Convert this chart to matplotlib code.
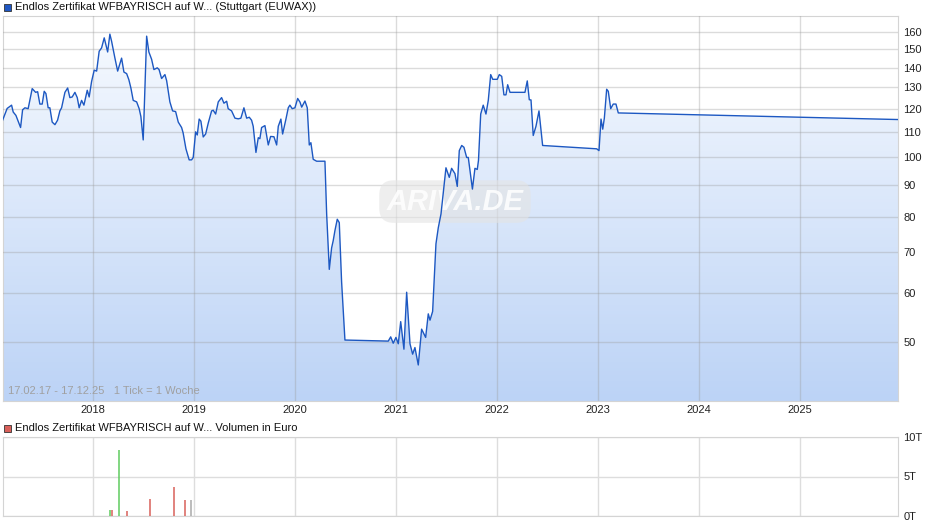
import numpy as np
import matplotlib
matplotlib.use("Agg")
import matplotlib.pyplot as plt
from matplotlib.patches import Rectangle
from matplotlib.colors import LinearSegmentedColormap

plt.rcParams['font.family'] = ['Liberation Sans', 'DejaVu Sans']

# ------------------------------------------------------------
# data (time in decimal years, price in EUR)
# ------------------------------------------------------------
t_price = [
    2017.106, 2017.151, 2017.195, 2017.211, 2017.238, 2017.284, 2017.304, 2017.327,
    2017.359, 2017.399, 2017.433, 2017.453, 2017.475, 2017.498, 2017.518, 2017.535,
    2017.557, 2017.574, 2017.597, 2017.624, 2017.650, 2017.673, 2017.690, 2017.723,
    2017.750, 2017.772, 2017.795, 2017.822, 2017.845, 2017.864, 2017.888, 2017.911,
    2017.944, 2017.963, 2017.987, 2018.013, 2018.037, 2018.062, 2018.086, 2018.112,
    2018.146, 2018.168, 2018.185, 2018.218, 2018.245, 2018.284, 2018.307, 2018.334,
    2018.356, 2018.376, 2018.399, 2018.433, 2018.458, 2018.475, 2018.498, 2018.532,
    2018.554, 2018.581, 2018.604, 2018.637, 2018.655, 2018.680, 2018.713, 2018.730,
    2018.762, 2018.789, 2018.819, 2018.845, 2018.878, 2018.893, 2018.921, 2018.953,
    2018.977, 2018.993, 2019.017, 2019.033, 2019.052, 2019.069, 2019.092, 2019.116,
    2019.142, 2019.175, 2019.191, 2019.215, 2019.241, 2019.274, 2019.297, 2019.324,
    2019.339, 2019.373, 2019.406, 2019.439, 2019.465, 2019.495, 2019.522, 2019.548,
    2019.571, 2019.587, 2019.614, 2019.637, 2019.653, 2019.670, 2019.703, 2019.736,
    2019.759, 2019.792, 2019.819, 2019.835, 2019.861, 2019.878, 2019.911, 2019.934,
    2019.950, 2019.973, 2020.000, 2020.027, 2020.050, 2020.067, 2020.099, 2020.122,
    2020.142, 2020.158, 2020.181, 2020.215, 2020.297, 2020.314, 2020.340, 2020.363,
    2020.379, 2020.396, 2020.419, 2020.439, 2020.462, 2020.495, 2020.924, 2020.948,
    2020.973, 2021.000, 2021.023, 2021.047, 2021.079, 2021.106, 2021.139, 2021.165,
    2021.188, 2021.221, 2021.254, 2021.294, 2021.320, 2021.337, 2021.363, 2021.396,
    2021.419, 2021.446, 2021.495, 2021.528, 2021.551, 2021.584, 2021.607, 2021.627,
    2021.651, 2021.673, 2021.700, 2021.716, 2021.757, 2021.782, 2021.805, 2021.817,
    2021.839, 2021.864, 2021.891, 2021.914, 2021.938, 2021.958, 2022.003, 2022.023,
    2022.047, 2022.069, 2022.089, 2022.106, 2022.129, 2022.277, 2022.300, 2022.320,
    2022.337, 2022.359, 2022.386, 2022.416, 2022.452, 2022.987, 2023.010, 2023.030,
    2023.047, 2023.063, 2023.086, 2023.102, 2023.126, 2023.151, 2023.178, 2023.201,
    2025.970,
]
price = [
    114.9, 120.1, 121.6, 118.5, 117.0, 111.8, 119.5, 120.4,
    120.0, 129.4, 127.6, 127.9, 122.1, 122.1, 128.1, 127.0,
    120.4, 120.4, 114.1, 113.0, 114.9, 119.0, 120.4, 127.6,
    129.7, 125.1, 125.4, 127.6, 125.1, 120.4, 123.8, 121.6,
    128.6, 125.4, 132.9, 138.7, 138.2, 148.9, 150.8, 156.6,
    148.5, 158.8, 154.6, 145.1, 138.2, 145.1, 137.7, 136.9,
    133.8, 129.7, 123.8, 123.1, 120.0, 116.5, 106.7, 157.6,
    148.5, 144.5, 139.0, 139.9, 139.0, 134.4, 136.4, 133.3,
    123.1, 119.0, 118.7, 114.1, 111.8, 109.6, 103.2, 99.0,
    99.0, 99.9, 110.0, 108.7, 115.4, 114.5, 107.9, 109.1,
    113.7, 119.0, 119.3, 117.6, 123.1, 125.1, 122.5, 123.4,
    120.0, 119.0, 115.8, 115.5, 115.8, 120.4, 115.8, 116.2,
    114.9, 112.3, 101.8, 107.6, 107.2, 111.8, 112.6, 104.7,
    108.1, 108.0, 104.7, 112.3, 115.4, 109.1, 115.4, 120.4,
    121.6, 120.0, 120.4, 124.7, 123.0, 120.7, 123.5, 120.4,
    104.7, 105.6, 99.2, 98.5, 98.5, 80.8, 65.6, 71.1,
    73.1, 75.9, 79.2, 78.2, 62.6, 50.3, 50.1, 50.9,
    49.7, 50.8, 49.6, 53.9, 48.6, 60.2, 49.6, 47.7,
    48.9, 45.8, 52.4, 50.8, 55.5, 54.2, 56.0, 72.2,
    76.7, 80.8, 96.1, 92.7, 95.9, 94.0, 89.6, 102.5,
    104.5, 103.8, 99.9, 99.9, 88.7, 95.9, 95.5, 98.8,
    117.6, 121.6, 117.6, 123.8, 136.4, 134.0, 134.0, 136.4,
    135.5, 126.4, 126.4, 131.3, 127.6, 127.6, 133.2, 124.1,
    124.0, 108.5, 112.3, 119.0, 104.5, 103.2, 102.5, 115.4,
    111.1, 115.8, 129.1, 128.1, 120.0, 122.1, 122.1, 118.1,
    115.2,
]

# volume bars (thousand EUR)
t_volume = [2018.168, 2018.188, 2018.257, 2018.337, 2018.564, 2018.802, 2018.911, 2018.970]
volume = [0.8, 0.8, 8.4, 0.6, 2.2, 3.7, 2.0, 2.0]
volume_colors = ['#5fcc5f', '#d9605a', '#5fcc5f', '#d9605a', '#d9605a', '#d9605a', '#d9605a', '#aaaaaa']

years = [2018, 2019, 2020, 2021, 2022, 2023, 2024, 2025]
price_ticks = [50, 60, 70, 80, 90, 100, 110, 120, 130, 140, 150, 160]
volume_ticks = [0, 5, 10]
volume_labels = ['0T', '5T', '10T']

title_price = "Endlos Zertifikat WFBAYRISCH auf W... (Stuttgart (EUWAX))"
title_volume = "Endlos Zertifikat WFBAYRISCH auf W... Volumen in Euro"
range_note = "17.02.17 - 17.12.25   1 Tick = 1 Woche"

# ------------------------------------------------------------
# figure
# ------------------------------------------------------------
W, H = 940, 526
fig = plt.figure(figsize=(W / 100, H / 100), dpi=100)


def px_axes(x0, y0, x1, y1):
    return fig.add_axes([x0 / W, 1 - y1 / H, (x1 - x0) / W, (y1 - y0) / H])


spine_col = '#d4d4d4'
xlim = (2017.11, 2025.97)

# --- price panel ---
ax = px_axes(3, 16, 898, 401)
ax.set_yscale('log')
ax.set_xlim(*xlim)
ax.set_ylim(40, 170)

# gradient fill under the line
poly = ax.fill_between(t_price, price, 1, facecolor='none', edgecolor='none')
cmap = LinearSegmentedColormap.from_list('fill', ['#bcd3f6', '#f8fbff'])
grad = np.linspace(0, 1, 256).reshape(-1, 1)
im = ax.imshow(grad, extent=[0, 1, 0, 1], transform=ax.transAxes, aspect='auto',
               cmap=cmap, origin='lower', zorder=0.5)
im.set_clip_path(poly.get_paths()[0], transform=ax.transData)

ax.plot(t_price, price, color='#1d58c2', lw=1.0, zorder=3)

ax.set_xticks(years)
ax.set_xticklabels([str(y) for y in years])
ax.set_yticks(price_ticks)
ax.set_yticklabels([str(v) for v in price_ticks])
ax.yaxis.set_minor_locator(matplotlib.ticker.NullLocator())
ax.yaxis.tick_right()
ax.tick_params(axis='both', length=0, labelsize=8, colors='#222222')
ax.tick_params(axis='y', pad=4)
ax.tick_params(axis='x', pad=3)
ax.grid(True, color='#9a9a9a', alpha=0.35, lw=1)
ax.set_axisbelow(False)
for s in ax.spines.values():
    s.set_color(spine_col)

ax.text(0.006, 0.012, range_note, transform=ax.transAxes, fontsize=8,
        color='#a0a0a0', va='bottom', ha='left', zorder=4)

# watermark
ax.text(0.505, 0.518, "ARIVA.DE", transform=ax.transAxes, fontsize=21,
        fontweight='bold', style='italic', color='white', ha='center', va='center',
        alpha=0.85, zorder=2.8,
        bbox=dict(boxstyle='round,pad=0.25,rounding_size=0.5', fc='#e4e4e4',
                  ec='none', alpha=0.6))

# --- volume panel ---
axv = px_axes(3, 437, 898, 516)
axv.set_xlim(*xlim)
axv.set_ylim(0, 10)
axv.vlines(t_volume, 0, volume, colors=volume_colors, lw=1.1, zorder=3)
axv.set_xticks(years)
axv.set_xticklabels([])
axv.set_yticks(volume_ticks)
axv.set_yticklabels(volume_labels)
axv.yaxis.tick_right()
axv.tick_params(axis='both', length=0, labelsize=8, colors='#222222')
axv.tick_params(axis='y', pad=4)
axv.grid(True, color='#dddddd', lw=1)
axv.set_axisbelow(True)
for s in axv.spines.values():
    s.set_color(spine_col)

# legends (square + label)
fig.patches.append(Rectangle((4 / W, 1 - 11 / H), 7 / W, 7 / H, transform=fig.transFigure,
                             fc='#1f57c3', ec='#333333', lw=0.6))
fig.text(15 / W, 1 - 7 / H, title_price, fontsize=8, va='center', ha='left', color='#111111')
fig.patches.append(Rectangle((4 / W, 1 - 432 / H), 7 / W, 7 / H, transform=fig.transFigure,
                             fc='#d9605a', ec='#333333', lw=0.6))
fig.text(15 / W, 1 - 428 / H, title_volume, fontsize=8, va='center', ha='left', color='#111111')

fig.savefig('out.png', dpi=100)
